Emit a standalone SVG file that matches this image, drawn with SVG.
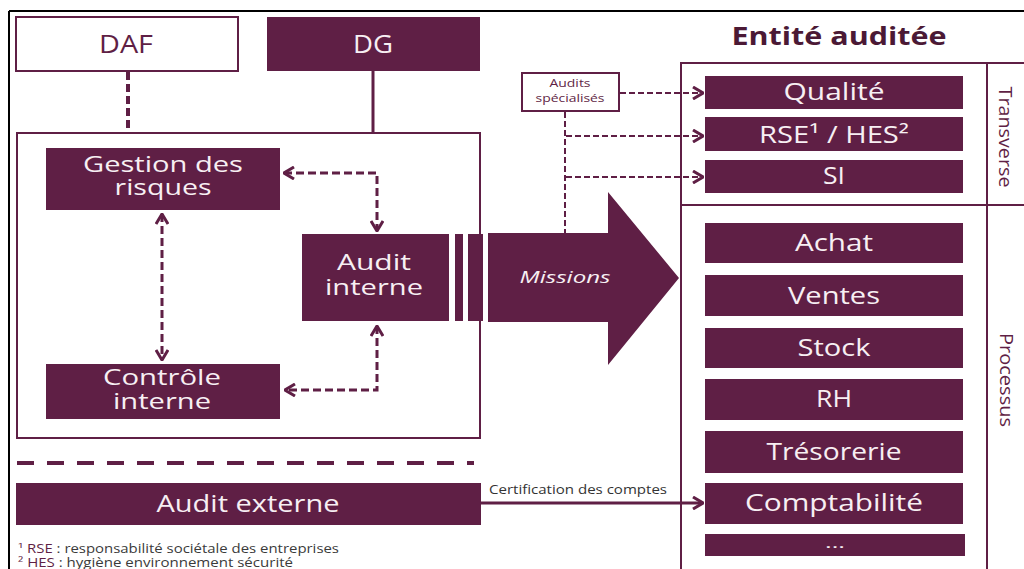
<svg xmlns="http://www.w3.org/2000/svg" width="1024" height="569" viewBox="0 0 1024 569">
<defs>
<style>
.fill{fill:#5f1f45}
.wt{fill:#f7eff3;font-family:"Open Sans","DejaVu Sans",sans-serif;text-anchor:middle}
.mt{fill:#5f1f45;font-family:"Open Sans","DejaVu Sans",sans-serif;text-anchor:middle}
.frame{fill:none;stroke:#5f1f45;stroke-width:2}
.dash{fill:none;stroke:#5f1f45;stroke-width:3;stroke-dasharray:8 4}
.dsm{fill:none;stroke:#5f1f45;stroke-width:2;stroke-dasharray:6 3}
.solid{fill:none;stroke:#5f1f45;stroke-width:3}
.fn{font-family:"Open Sans","DejaVu Sans",sans-serif;font-size:12px;fill:#3a3a3a}
</style>
<marker id="ah" viewBox="0 0 12 14" refX="11" refY="7" markerWidth="12" markerHeight="14" markerUnits="userSpaceOnUse" orient="auto-start-reverse">
<path d="M1,1 L11,7 L1,13" fill="none" stroke="#5f1f45" stroke-width="3"/>
</marker>
</defs>
<rect width="1024" height="569" fill="#ffffff"/>
<path d="M9,11 H1024 M9,11 V569" fill="none" stroke="#000" stroke-width="2"/>

<g id="daf">
<rect x="16" y="17" width="222" height="54" fill="#fff" stroke="#5f1f45" stroke-width="2"/>
<text class="mt" x="126" y="53" font-size="25" textLength="54" lengthAdjust="spacingAndGlyphs">DAF</text>
</g>
<g id="dg">
<rect class="fill" x="267" y="17" width="213" height="54"/>
<text class="wt" x="373" y="53" font-size="25" textLength="40" lengthAdjust="spacingAndGlyphs">DG</text>
</g>
<g id="container">
<rect class="frame" x="17" y="133" width="463" height="305"/>
</g>
<g id="gestion">
<rect class="fill" x="46" y="148" width="234" height="62"/>
<text class="wt" x="163" y="172" font-size="21" textLength="160" lengthAdjust="spacingAndGlyphs">Gestion des</text>
<text class="wt" x="163" y="195" font-size="21" textLength="97" lengthAdjust="spacingAndGlyphs">risques</text>
</g>
<g id="controle">
<rect class="fill" x="46" y="364" width="234" height="55"/>
<text class="wt" x="162" y="385" font-size="21" textLength="118" lengthAdjust="spacingAndGlyphs">Contrôle</text>
<text class="wt" x="162" y="409" font-size="21" textLength="98" lengthAdjust="spacingAndGlyphs">interne</text>
</g>
<g id="audit-interne">
<rect class="fill" x="302" y="234" width="147" height="87"/>
<text class="wt" x="374" y="270" font-size="21" textLength="74" lengthAdjust="spacingAndGlyphs">Audit</text>
<text class="wt" x="374" y="295" font-size="21" textLength="98" lengthAdjust="spacingAndGlyphs">interne</text>
</g>
<g id="missions">
<rect class="fill" x="455" y="234" width="8" height="87"/>
<rect class="fill" x="468" y="234" width="15" height="87"/>
<polygon class="fill" points="488,233 608,233 608,192 679,278 608,365 608,322 488,322"/>
<text class="wt" x="565" y="283" font-size="17" font-style="italic" textLength="91" lengthAdjust="spacingAndGlyphs">Missions</text>
</g>
<g id="audit-externe">
<rect class="fill" x="16" y="483" width="465" height="42"/>
<text class="wt" x="248" y="512" font-size="24" textLength="183" lengthAdjust="spacingAndGlyphs">Audit externe</text>
</g>
<g id="audits-specialises">
<rect x="522" y="73" width="97" height="38" fill="#fff" stroke="#5f1f45" stroke-width="2"/>
<text class="mt" x="570" y="87" font-size="11" textLength="41" lengthAdjust="spacingAndGlyphs">Audits</text>
<text class="mt" x="570" y="102" font-size="11" textLength="69" lengthAdjust="spacingAndGlyphs">spécialisés</text>
</g>
<g id="entite">
<text x="839" y="45" font-family="'Open Sans','DejaVu Sans',sans-serif" font-weight="bold" font-size="25" fill="#4b1935" text-anchor="middle" textLength="215" lengthAdjust="spacingAndGlyphs">Entité auditée</text>
<path d="M681,569 V63 H1024 M987,63 V569 M681,205 H1024" fill="none" stroke="#5f1f45" stroke-width="2"/>
<text class="mt" transform="translate(999,137) rotate(90)" font-size="18" textLength="101" lengthAdjust="spacingAndGlyphs">Transverse</text>
<text class="mt" transform="translate(1000,380) rotate(90)" font-size="18" textLength="94" lengthAdjust="spacingAndGlyphs">Processus</text>
</g>
<g id="qualite"><rect class="fill" x="705" y="76" width="258" height="33"/><text class="wt" x="834" y="100" font-size="23" textLength="101" lengthAdjust="spacingAndGlyphs">Qualité</text></g>
<g id="rse"><rect class="fill" x="705" y="117" width="258" height="34"/><text class="wt" x="834" y="143" font-size="23" textLength="150" lengthAdjust="spacingAndGlyphs">RSE¹ / HES²</text></g>
<g id="si"><rect class="fill" x="705" y="160" width="258" height="33"/><text class="wt" x="834" y="184" font-size="23" textLength="22" lengthAdjust="spacingAndGlyphs">SI</text></g>
<g id="achat"><rect class="fill" x="705" y="223" width="258" height="40"/><text class="wt" x="834" y="251" font-size="23" textLength="78" lengthAdjust="spacingAndGlyphs">Achat</text></g>
<g id="ventes"><rect class="fill" x="705" y="275" width="258" height="41"/><text class="wt" x="834" y="304" font-size="23" textLength="92" lengthAdjust="spacingAndGlyphs">Ventes</text></g>
<g id="stock"><rect class="fill" x="705" y="328" width="258" height="40"/><text class="wt" x="834" y="356" font-size="23" textLength="73" lengthAdjust="spacingAndGlyphs">Stock</text></g>
<g id="rh"><rect class="fill" x="705" y="379" width="258" height="41"/><text class="wt" x="834" y="407" font-size="23" textLength="36" lengthAdjust="spacingAndGlyphs">RH</text></g>
<g id="tresorerie"><rect class="fill" x="705" y="431" width="258" height="42"/><text class="wt" x="834" y="460" font-size="23" textLength="135" lengthAdjust="spacingAndGlyphs">Trésorerie</text></g>
<g id="comptabilite"><rect class="fill" x="705" y="483" width="258" height="41"/><text class="wt" x="834" y="511" font-size="23" textLength="178" lengthAdjust="spacingAndGlyphs">Comptabilité</text></g>
<g id="etc"><rect class="fill" x="705" y="534" width="260" height="22"/><text class="wt" x="835" y="548" font-size="14" textLength="20" lengthAdjust="spacingAndGlyphs">...</text></g>

<g id="connectors">
<path fill="none" stroke="#5f1f45" stroke-width="4" stroke-dasharray="8 4" d="M128,72 V133"/>
<path class="solid" d="M373,71 V133"/>
<path class="dash" d="M284,173 H377 V231" marker-start="url(#ah)" marker-end="url(#ah)"/>
<path class="dash" d="M162,214 V360" marker-start="url(#ah)" marker-end="url(#ah)"/>
<path class="dash" d="M377,326 V390 H285" marker-start="url(#ah)" marker-end="url(#ah)"/>
<path fill="none" stroke="#5f1f45" stroke-width="4" stroke-dasharray="17 13" d="M17,463 H474"/>
<path class="dsm" d="M620,93 H703" marker-end="url(#ah)"/>
<path class="dsm" d="M565,112 V233"/>
<path class="dsm" d="M566,136 H703" marker-end="url(#ah)"/>
<path class="dsm" d="M566,177 H703" marker-end="url(#ah)"/>
<path class="solid" d="M481,503 H703" marker-end="url(#ah)"/>
<text x="578" y="494" font-family="'Open Sans','DejaVu Sans',sans-serif" font-size="12" fill="#333" text-anchor="middle" textLength="178" lengthAdjust="spacingAndGlyphs">Certification des comptes</text>
</g>

<g id="footnotes">
<text class="fn" x="18" y="553" textLength="321" lengthAdjust="spacingAndGlyphs"><tspan fill="#5f1f45">¹ RSE</tspan> : responsabilité sociétale des entreprises</text>
<text class="fn" x="18" y="567" textLength="275" lengthAdjust="spacingAndGlyphs"><tspan fill="#5f1f45">² HES</tspan> : hygiène environnement sécurité</text>
</g>
</svg>
